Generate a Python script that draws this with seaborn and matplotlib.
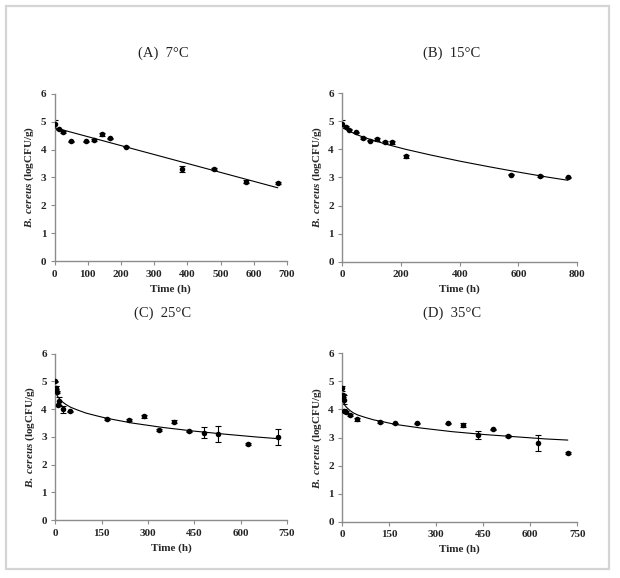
import seaborn as sns
import pandas as pd
import matplotlib.pyplot as plt
from matplotlib.patches import Rectangle

# Observed B. cereus counts (logCFU/g) at each storage temperature
time_7 = [0, 12, 24, 48, 96, 120, 144, 168, 216, 384, 480, 576, 672]
log_7 = [4.9, 4.72, 4.62, 4.3, 4.3, 4.35, 4.55, 4.4, 4.1, 3.3, 3.3, 2.85, 2.8]
err_7 = [0.15, 0.02, 0.03, 0.02, 0.02, 0.04, 0.05, 0.02, 0.02, 0.12, 0.03, 0.05, 0.03]

time_15 = [0, 12, 24, 48, 72, 96, 120, 144, 168, 216, 576, 672, 768]
log_15 = [4.9, 4.8, 4.7, 4.6, 4.4, 4.3, 4.35, 4.25, 4.25, 3.75, 3.1, 3.05, 3.0]
err_15 = [0.15, 0.03, 0.02, 0.03, 0.03, 0.02, 0.05, 0.04, 0.05, 0.05, 0.03, 0.04, 0.03]

time_25 = [0, 2, 4, 6, 8, 12, 24, 48, 168, 240, 288, 336, 384, 432, 480, 528, 624, 720]
log_25 = [5.0, 4.78, 4.72, 4.62, 4.15, 4.3, 4.0, 3.92, 3.65, 3.6, 3.75, 3.25, 3.55, 3.2, 3.15, 3.1, 2.75, 3.0]
err_25 = [0.02, 0.05, 0.1, 0.05, 0.05, 0.15, 0.12, 0.03, 0.05, 0.03, 0.05, 0.05, 0.05, 0.03, 0.2, 0.28, 0.05, 0.3]

time_35 = [0, 1, 3, 5, 7, 12, 24, 48, 120, 168, 240, 336, 384, 432, 480, 528, 624, 720]
log_35 = [4.75, 4.5, 4.45, 4.35, 3.95, 3.92, 3.8, 3.65, 3.55, 3.5, 3.5, 3.5, 3.45, 3.1, 3.3, 3.05, 2.8, 2.45]
err_35 = [0.08, 0.05, 0.1, 0.15, 0.05, 0.04, 0.03, 0.05, 0.05, 0.03, 0.02, 0.03, 0.06, 0.15, 0.02, 0.04, 0.28, 0.05]

# Fitted survival curves
fit_t_7 = [0, 100, 200, 300, 400, 500, 600, 672]
fit_y_7 = [4.78, 4.46, 4.14, 3.82, 3.5, 3.18, 2.86, 2.63]

fit_t_15 = [0, 10, 25, 50, 75, 100, 150, 216, 300, 400, 500, 600, 700, 768]
fit_y_15 = [4.85, 4.74, 4.64, 4.52, 4.42, 4.34, 4.18, 4.0, 3.8, 3.58, 3.38, 3.19, 3.01, 2.9]

fit_t_25 = [4, 7, 10, 15, 25, 35, 50, 75, 100, 135, 168, 250, 350, 450, 550, 650, 720]
fit_y_25 = [4.55, 4.48, 4.43, 4.36, 4.25, 4.17, 4.07, 3.96, 3.86, 3.76, 3.67, 3.5, 3.34, 3.21, 3.1, 3.0, 2.94]

fit_t_35 = [4, 7, 10, 15, 25, 35, 50, 75, 100, 135, 168, 250, 350, 450, 550, 650, 720]
fit_y_35 = [4.25, 4.17, 4.12, 4.06, 3.96, 3.88, 3.8, 3.71, 3.63, 3.55, 3.47, 3.34, 3.21, 3.11, 3.03, 2.95, 2.91]

panels = [
    ("(A)  7°C", time_7, log_7, err_7, fit_t_7, fit_y_7, 700, 100),
    ("(B)  15°C", time_15, log_15, err_15, fit_t_15, fit_y_15, 800, 200),
    ("(C)  25°C", time_25, log_25, err_25, fit_t_25, fit_y_25, 750, 150),
    ("(D)  35°C", time_35, log_35, err_35, fit_t_35, fit_y_35, 750, 150),
]

sns.set_style("ticks")
plt.rcParams["font.family"] = ["Liberation Serif", "DejaVu Serif"]
plt.rcParams["mathtext.fontset"] = "custom"
plt.rcParams["mathtext.it"] = "Liberation Serif:italic:bold"
plt.rcParams["mathtext.rm"] = "Liberation Serif:bold"

fig = plt.figure(figsize=(6.2, 5.78), dpi=100)

# axes boxes [left, bottom, width, height] and title positions in figure fraction
boxes = [
    [0.088, 0.548, 0.375, 0.290],
    [0.552, 0.547, 0.379, 0.292],
    [0.089, 0.100, 0.374, 0.288],
    [0.552, 0.097, 0.379, 0.292],
]
title_pos = [(0.263, 0.907), (0.729, 0.907), (0.263, 0.458), (0.729, 0.458)]

axis_grey = "#8c8c8c"

for (title, t, y, e, ft, fy, xmax, xstep), box, tp in zip(panels, boxes, title_pos):
    ax = fig.add_axes(box)
    df = pd.DataFrame({"Time (h)": t, "log": y})
    fit_df = pd.DataFrame({"Time (h)": ft, "log": fy})

    ax.errorbar(t, y, yerr=e, fmt="none", ecolor="black", elinewidth=0.8,
                capsize=2.5, capthick=0.8, zorder=2)
    sns.lineplot(data=fit_df, x="Time (h)", y="log", ax=ax, color="black",
                 linewidth=0.8, zorder=3)
    sns.scatterplot(data=df, x="Time (h)", y="log", ax=ax, color="black",
                    s=16, edgecolor="black", linewidth=0, zorder=4)

    ax.set_xlim(0, xmax)
    ax.set_ylim(0, 6)
    ax.set_xticks(range(0, xmax + 1, xstep))
    ax.set_yticks(range(0, 7))
    ax.tick_params(labelsize=8, length=3, width=0.8, color=axis_grey, pad=3)
    for lab in ax.get_xticklabels() + ax.get_yticklabels():
        lab.set_fontweight("bold")
    for side in ["top", "right"]:
        ax.spines[side].set_visible(False)
    for side in ["left", "bottom"]:
        ax.spines[side].set_color(axis_grey)
        ax.spines[side].set_linewidth(1.0)

    ax.set_xlabel("Time (h)", fontsize=8, fontweight="bold", labelpad=4)
    ax.set_ylabel(r"$\it{B.\ cereus}$ (logCFU/g)", fontsize=8, fontweight="bold", labelpad=3)

    fig.text(tp[0], tp[1], title, ha="center", va="center", fontsize=10.5, color="#222222")

# light grey frame round the whole figure
fig.patches.append(Rectangle((0.009, 0.015), 0.974, 0.975, transform=fig.transFigure,
                             fill=False, edgecolor="#d4d4d4", linewidth=1.6))

fig.savefig("out.png", dpi=100)
